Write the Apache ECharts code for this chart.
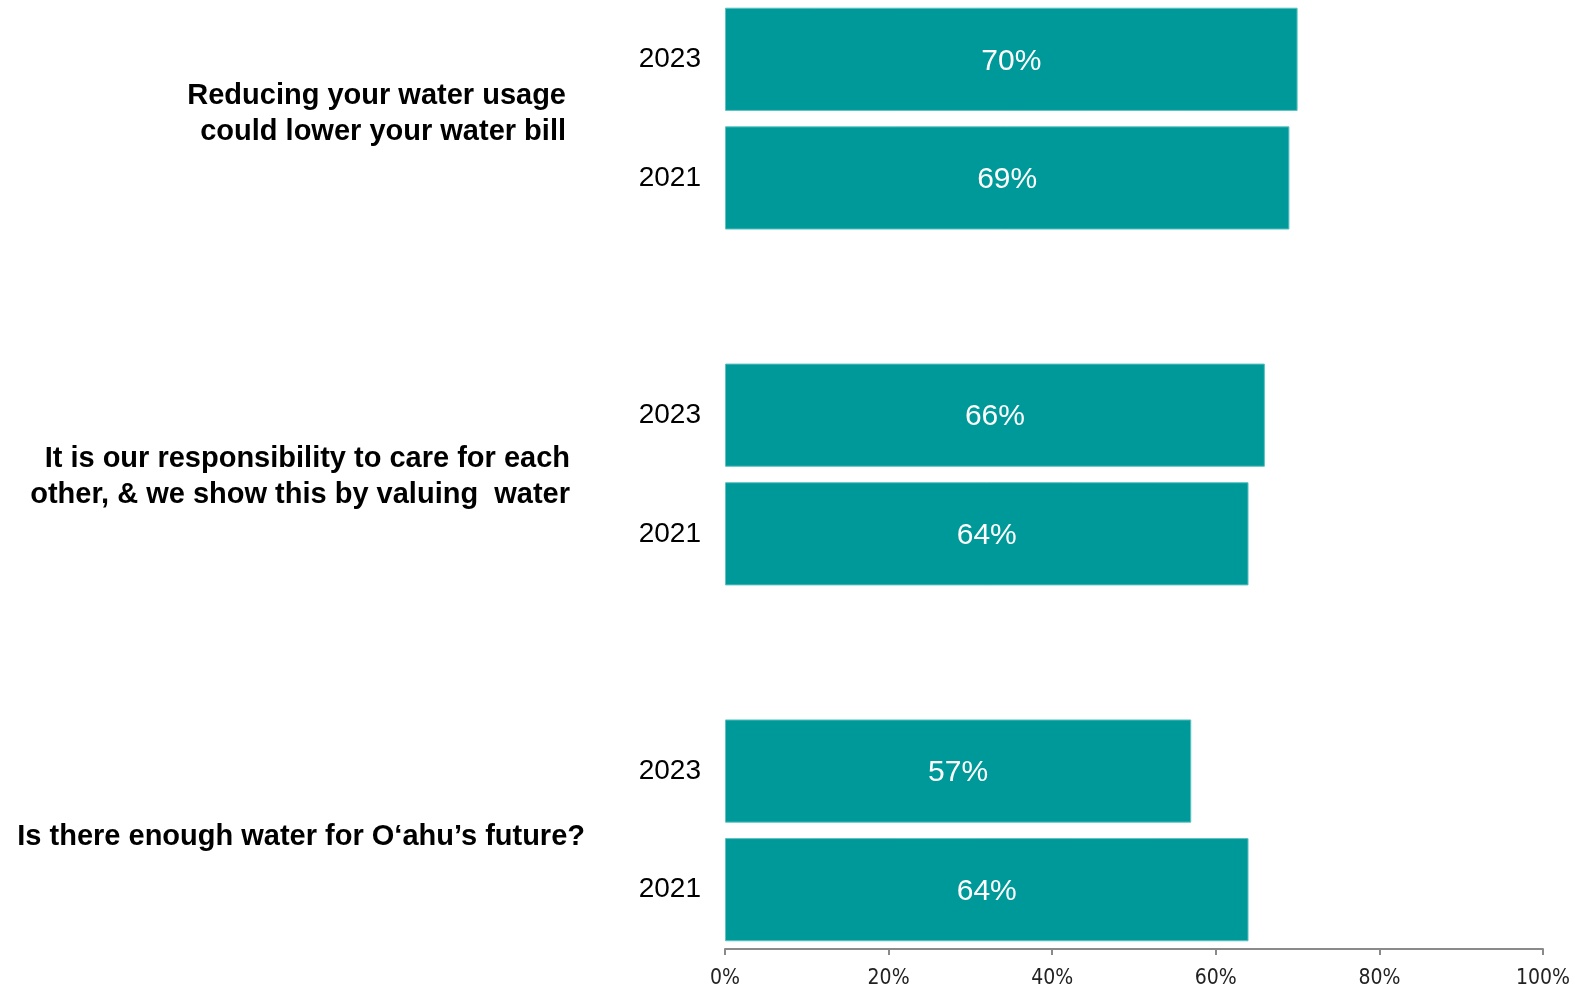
<!DOCTYPE html>
<html>
<head>
<meta charset="utf-8">
<style>html,body{margin:0;padding:0;background:#fff;}#c{width:1581px;height:985px;}</style>
<script src="https://cdn.jsdelivr.net/npm/echarts@6/dist/echarts.min.js"></script>
</head>
<body>
<div id="c"></div>
<script>
const questions = [
  'Reducing your water usage\ncould lower your water bill',
  'It is our responsibility to care for each\nother, & we show this by valuing  water',
  'Is there enough water for O\u2018ahu\u2019s future?'
];
const years = ['2023', '2021'];
const values2023 = [70, 66, 57];
const values2021 = [69, 64, 64];
const xTicks = [0, 20, 40, 60, 80, 100];

// build category list with blank spacer slots between groups
const cats = [];
const vals = [];
questions.forEach((q, i) => {
  if (i > 0) { cats.push(' '.repeat(i)); vals.push(null); }
  cats.push(years[0]); vals.push(values2023[i]);
  cats.push(years[1]); vals.push(values2021[i]);
});

const qLayout = [
  { x: 566, y: 114 },
  { x: 570, y: 477 },
  { x: 585, y: 837 }
];

const chart = echarts.init(document.getElementById('c'));
chart.setOption({
  animation: false,
  grid: { left: 725, right: 38, top: 0, bottom: 36, containLabel: false, outerBoundsMode: 'none' },
  xAxis: {
    type: 'value', min: xTicks[0], max: xTicks[xTicks.length - 1], interval: xTicks[1] - xTicks[0],
    axisLine: { show: true, lineStyle: { color: '#8a8a8a', width: 2 } },
    axisTick: { show: true, length: 6, lineStyle: { color: '#8a8a8a', width: 2 } },
    splitLine: { show: false },
    axisLabel: {
      formatter: v => v + '%', color: '#222', fontSize: 21, margin: 19,
      fontFamily: "'Liberation Sans Narrow','Arial Narrow','DejaVu Sans Condensed',sans-serif"
    }
  },
  yAxis: {
    type: 'category', data: cats, inverse: true,
    axisLine: { show: false }, axisTick: { show: false },
    axisLabel: {
      color: '#000', fontSize: 28, margin: 24, padding: [8, 0, 0, 0],
      fontFamily: "'Liberation Sans',Arial,sans-serif"
    }
  },
  series: [{
    type: 'bar', data: vals, barCategoryGap: '13%',
    itemStyle: { color: '#009999', borderColor: '#5cc2c2', borderWidth: 1 },
    label: {
      show: true, position: 'inside', formatter: p => p.value + '%', offset: [0, 2],
      color: '#fff', fontSize: 30, fontFamily: "'Liberation Sans',Arial,sans-serif"
    }
  }],
  graphic: questions.map((q, i) => ({
    type: 'text',
    x: qLayout[i].x,
    y: qLayout[i].y,
    style: {
      text: q, fill: '#000', fontSize: 29, fontWeight: 'bold',
      fontFamily: "'Liberation Sans',Arial,sans-serif",
      align: 'right', verticalAlign: 'middle', lineHeight: 36
    }
  }))
});
</script>
</body>
</html>
